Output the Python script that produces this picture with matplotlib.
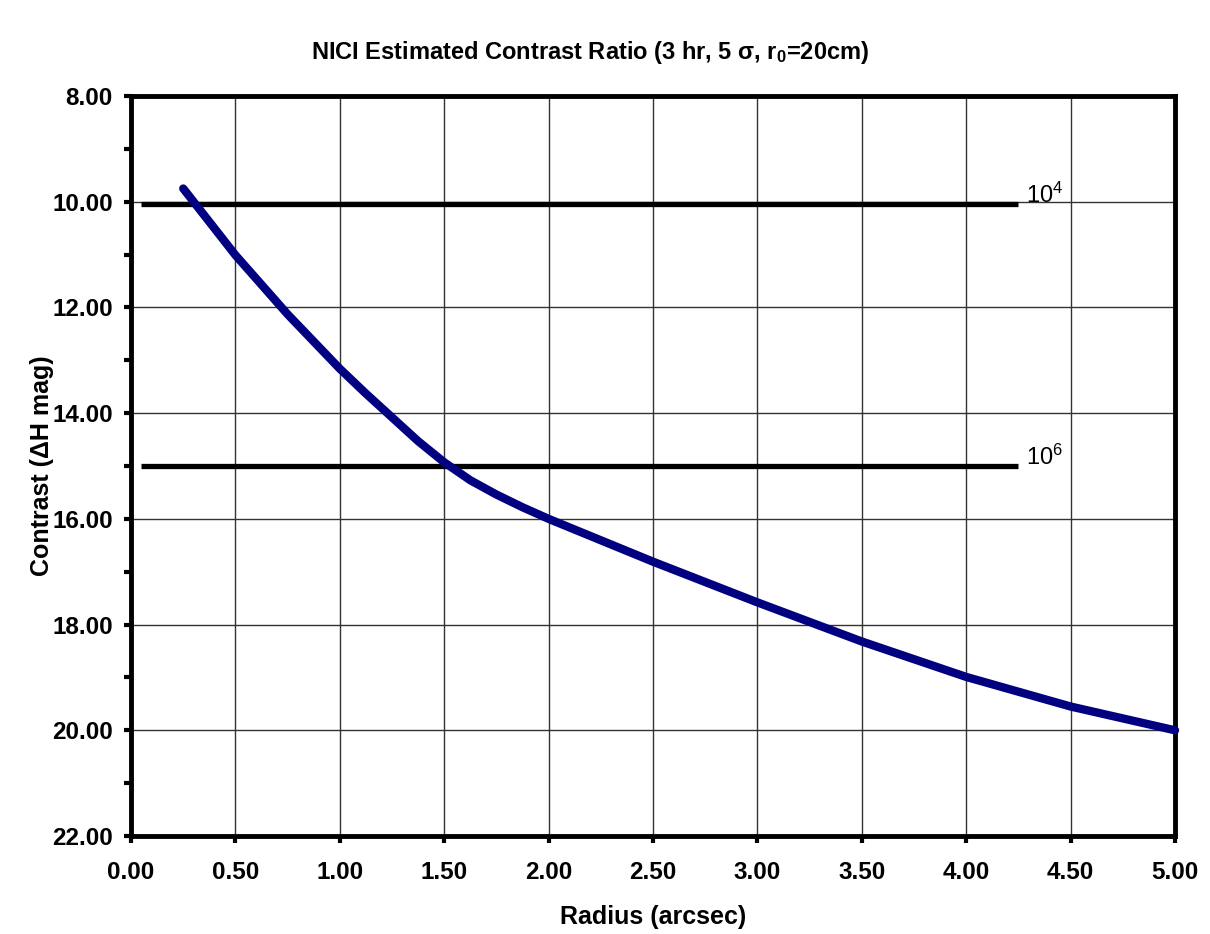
import matplotlib.pyplot as plt
import numpy as np
from matplotlib.ticker import MultipleLocator, FormatStrFormatter

plt.rcParams['font.family'] = ['Liberation Sans', 'DejaVu Sans']

# Contrast curve
radius = [0.25, 0.50, 0.75, 1.00, 1.125, 1.25, 1.375, 1.50, 1.625, 1.75, 1.875, 2.00,
          2.50, 3.00, 3.50, 4.00, 4.50, 5.00]
contrast = [9.75, 11.01, 12.13, 13.16, 13.63, 14.08, 14.53, 14.93, 15.27, 15.54, 15.78, 16.00,
            16.81, 17.58, 18.32, 18.99, 19.55, 20.00]

# Reference contrast levels (10^4 and 10^6)
ref_levels = [10.05, 15.0]
ref_labels = [r'$\mathregular{10^4}$', r'$\mathregular{10^6}$']
ref_xmin, ref_xmax = 0.05, 4.25

fig = plt.figure(figsize=(12.1, 9.34), dpi=100)
ax = fig.add_axes([0.1083, 0.1049, 0.8628, 0.7923])

ax.grid(True, which='major', color='#333333', linewidth=1.0)
ax.set_axisbelow(True)

for lev, lab in zip(ref_levels, ref_labels):
    ax.hlines(lev, ref_xmin, ref_xmax, color='black', linewidth=3.8, zorder=3)
    ax.text(4.285, lev - 0.03, lab, fontsize=17, ha='left', va='baseline')

ax.plot(radius, contrast, color='#000080', linewidth=6,
        solid_capstyle='round', solid_joinstyle='round', zorder=4, clip_on=False)

ax.set_xlim(0, 5)
ax.set_ylim(22, 8)
ax.xaxis.set_major_locator(MultipleLocator(0.5))
ax.yaxis.set_major_locator(MultipleLocator(2))
ax.yaxis.set_minor_locator(MultipleLocator(1))
ax.xaxis.set_major_formatter(FormatStrFormatter('%.2f'))
ax.yaxis.set_major_formatter(FormatStrFormatter('%.2f'))

for s in ax.spines.values():
    s.set_linewidth(3.5)
    s.set_color('black')

ax.tick_params(which='both', direction='out', width=3, length=5, labelsize=17.5)
ax.tick_params(axis='x', pad=13)
ax.tick_params(axis='y', pad=8)
for lbl in ax.get_xticklabels() + ax.get_yticklabels():
    lbl.set_fontweight('bold')

ax.set_xlabel('Radius (arcsec)', fontsize=18, fontweight='bold')
ax.set_ylabel('Contrast (\u0394H mag)', fontsize=18, fontweight='bold')
ax.xaxis.set_label_coords(0.5, -0.093)
ax.yaxis.set_label_coords(-0.074, 0.5)
fig.text(0.488, 0.944, 'NICI Estimated Contrast Ratio (3 hr, 5 \u03c3, $\\mathregular{r_0}$=20cm)',
         ha='center', va='center', fontsize=17, fontweight='bold')

fig.savefig('out.png', dpi=100)
